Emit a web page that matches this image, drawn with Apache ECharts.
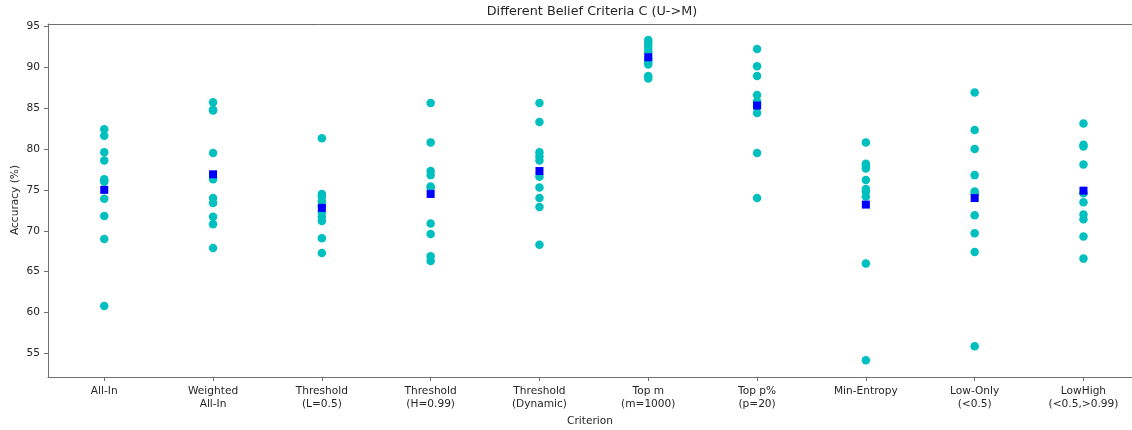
<!DOCTYPE html>
<html>
<head>
<meta charset="utf-8">
<script src="https://cdn.jsdelivr.net/npm/echarts@6/dist/echarts.min.js"></script>
<style>
html,body{margin:0;padding:0;background:#fff;}
#chart{width:1132px;height:430px;}
</style>
</head>
<body>
<div id="chart"></div>
<script>
const categories = ["All-In", "Weighted\nAll-In", "Threshold\n(L=0.5)", "Threshold\n(H=0.99)", "Threshold\n(Dynamic)", "Top m\n(m=1000)", "Top p%\n(p=20)", "Min-Entropy", "Low-Only\n(<0.5)", "LowHigh\n(<0.5,>0.99)"];
const allIn = [82.4, 81.6, 79.6, 78.6, 76.3, 76.0, 73.9, 71.8, 69.0, 60.8];
const weightedAllIn = [85.7, 84.8, 84.7, 79.5, 76.3, 74.0, 73.4, 71.7, 70.8, 67.9];
const thresholdL = [81.3, 74.5, 74.2, 73.6, 73.0, 72.3, 71.7, 71.2, 69.1, 67.3];
const thresholdH = [85.6, 80.8, 77.3, 76.8, 75.4, 75.3, 70.9, 69.6, 66.9, 66.3];
const thresholdDyn = [85.6, 83.3, 79.6, 79.1, 78.6, 76.6, 75.3, 74.0, 72.9, 68.3];
const topM = [93.3, 93.0, 92.6, 92.2, 91.8, 91.0, 90.6, 90.3, 88.9, 88.6];
const topP = [92.2, 90.1, 88.9, 86.6, 85.8, 85.5, 85.2, 84.4, 79.5, 74.0];
const minEntropy = [80.8, 78.2, 77.9, 77.6, 76.2, 75.1, 74.8, 74.2, 66.0, 54.2];
const lowOnly = [86.9, 82.3, 80.0, 76.8, 74.8, 74.5, 71.9, 69.7, 67.4, 55.9];
const lowHigh = [83.1, 80.5, 80.3, 78.1, 74.6, 73.5, 72.0, 71.4, 69.3, 66.6];
const means = [75.0, 76.9, 72.8, 74.5, 77.3, 91.2, 85.3, 73.2, 74.0, 74.9];
const yTicks = [55, 60, 65, 70, 75, 80, 85, 90, 95];

const groups = [allIn, weightedAllIn, thresholdL, thresholdH, thresholdDyn, topM, topP, minEntropy, lowOnly, lowHigh];
const dotData = [];
groups.forEach((g, i) => g.forEach(v => dotData.push([i, v])));
const meanData = means.map((v, i) => [i, v]);
const catIdx = categories.map((c, i) => i);

const textColor = '#262626';
const spine = '#707070';
const font = 'DejaVu Sans';

const chart = echarts.init(document.getElementById('chart'), null, {renderer: 'canvas'});
chart.setOption({
  animation: false,
  backgroundColor: '#ffffff',
  textStyle: {fontFamily: font, color: textColor},
  grid: {left: 48, right: 0, top: 24, bottom: 53, containLabel: false, outerBoundsMode: 'none'},
  graphic: [{
    type: 'text', x: 592, y: 12,
    style: {text: 'Different Belief Criteria C (U->M)', fontFamily: font, fontSize: 12.8, fill: textColor, align: 'center', verticalAlign: 'middle'}
  }, {
    type: 'text', x: 15, y: 200, rotation: Math.PI / 2,
    style: {text: 'Accuracy (%)', fontFamily: font, fontSize: 10.6, fill: textColor, align: 'center', verticalAlign: 'middle'}
  }],
  xAxis: [{
    type: 'value', min: -0.517, max: 9.446,
    splitLine: {show: false},
    axisLine: {show: true, onZero: false, lineStyle: {color: spine, width: 1}},
    axisTick: {show: true, length: 4, inside: false, customValues: catIdx, lineStyle: {color: spine}},
    axisLabel: {customValues: catIdx, formatter: v => categories[Math.round(v)], fontFamily: font, fontSize: 10.6, color: textColor, lineHeight: 13, margin: 8},
    name: 'Criterion', nameLocation: 'middle', nameGap: 38,
    nameTextStyle: {fontFamily: font, fontSize: 10.6, color: textColor}
  }, {
    type: 'value', position: 'top', min: -0.517, max: 9.446,
    splitLine: {show: false}, axisTick: {show: false}, axisLabel: {show: false},
    axisLine: {show: true, onZero: false, lineStyle: {color: spine, width: 1}}
  }],
  yAxis: {
    type: 'value', min: 52.14, max: 95.26,
    splitLine: {show: false},
    axisLine: {show: true, onZero: false, lineStyle: {color: spine, width: 1}},
    axisTick: {show: true, length: 4, customValues: yTicks, lineStyle: {color: spine}},
    axisLabel: {customValues: yTicks, fontFamily: font, fontSize: 10.6, color: textColor, margin: 8}
  },
  series: [{
    type: 'scatter', data: dotData, symbol: 'circle', symbolSize: 8.5,
    itemStyle: {color: '#00bfbf', opacity: 1}, z: 2, silent: true
  }, {
    type: 'scatter', data: meanData, symbol: 'rect', symbolSize: 8,
    itemStyle: {color: '#0000ff', opacity: 1}, z: 3, silent: true
  }]
});
</script>
</body>
</html>
